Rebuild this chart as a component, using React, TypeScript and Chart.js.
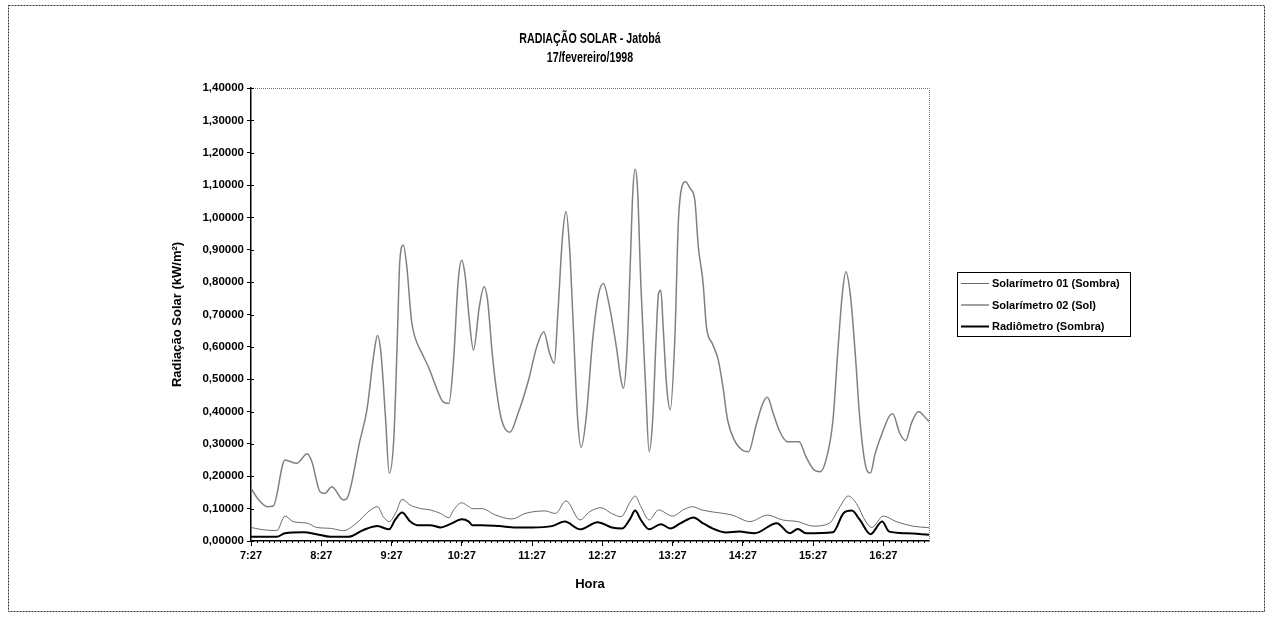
import React, { useEffect, useRef } from "react";
import { Chart, registerables } from "chart.js";

Chart.register(...registerables);

const chartTitle = ["RADIAÇÃO SOLAR - Jatobá", "17/fevereiro/1998"];
const xAxisTitle = "Hora";
const yAxisTitle = "Radiação Solar (kW/m²)";
const seriesNames = ["Solarímetro 01 (Sombra)", "Solarímetro 02 (Sol)", "Radiômetro (Sombra)"];
const xTickLabels = ["7:27", "8:27", "9:27", "10:27", "11:27", "12:27", "13:27", "14:27", "15:27", "16:27"];
const xEndMinute = 579; // minutes after 7:27 where the record ends

// Solarímetro 02 (Sol) — minutes after 7:27 and kW/m²
const solMin = [0, 7, 14, 19, 29, 39, 48, 52, 59, 63, 69, 79, 82, 93, 99, 105, 108, 111, 115, 118, 122, 125, 127, 130, 133, 137, 140, 146, 152, 159, 164, 169, 173, 177, 180, 183, 186, 190, 195, 199, 202, 206, 210, 214, 221, 228, 237, 244, 250, 255, 259, 262, 266, 269, 272, 275, 279, 282, 286, 292, 297, 301, 305, 312, 316, 318, 321, 324, 326, 328, 330, 333, 337, 340, 343, 346, 348, 350, 352, 355, 358, 362, 365, 368, 371, 375, 379, 382, 386, 389, 394, 399, 403, 407, 413, 420, 425, 431, 437, 441, 446, 451, 458, 468, 474, 481, 486, 491, 497, 501, 505, 508, 512, 516, 520, 525, 529, 533, 540, 545, 548, 554, 559, 564, 570, 575, 579];
const solVal = [0.163, 0.125, 0.106, 0.108, 0.25, 0.24, 0.27, 0.245, 0.152, 0.147, 0.168, 0.127, 0.132, 0.31, 0.405, 0.58, 0.635, 0.58, 0.374, 0.21, 0.32, 0.63, 0.86, 0.915, 0.85, 0.683, 0.63, 0.58, 0.534, 0.467, 0.43, 0.425, 0.56, 0.807, 0.868, 0.817, 0.7, 0.59, 0.724, 0.786, 0.745, 0.58, 0.456, 0.374, 0.336, 0.394, 0.497, 0.6, 0.647, 0.58, 0.549, 0.7, 0.94, 1.018, 0.91, 0.683, 0.374, 0.29, 0.374, 0.63, 0.765, 0.796, 0.745, 0.6, 0.497, 0.472, 0.58, 0.868, 1.074, 1.149, 1.095, 0.786, 0.477, 0.276, 0.374, 0.63, 0.765, 0.775, 0.66, 0.477, 0.405, 0.63, 0.99, 1.095, 1.11, 1.09, 1.054, 0.91, 0.8, 0.66, 0.61, 0.56, 0.477, 0.374, 0.31, 0.28, 0.276, 0.353, 0.425, 0.444, 0.394, 0.343, 0.307, 0.307, 0.26, 0.219, 0.214, 0.25, 0.374, 0.58, 0.765, 0.832, 0.755, 0.58, 0.374, 0.23, 0.21, 0.27, 0.343, 0.385, 0.393, 0.333, 0.31, 0.364, 0.4, 0.385, 0.369];

// Solarímetro 01 (Sombra)
const sombraMin = [0, 8, 22, 29, 36, 48, 56, 68, 79, 90, 102, 108, 113, 118, 124, 129, 136, 145, 153, 162, 169, 173, 180, 186, 189, 197, 209, 223, 234, 251, 260, 269, 281, 289, 299, 308, 316, 324, 328, 333, 340, 348, 360, 370, 377, 385, 394, 411, 426, 441, 454, 467, 480, 494, 503, 510, 517, 525, 530, 540, 551, 565, 579];
const sombraVal = [0.042, 0.036, 0.032, 0.077, 0.06, 0.055, 0.042, 0.039, 0.032, 0.055, 0.096, 0.106, 0.075, 0.06, 0.09, 0.129, 0.111, 0.1, 0.096, 0.085, 0.072, 0.096, 0.118, 0.106, 0.1, 0.1, 0.08, 0.068, 0.085, 0.093, 0.085, 0.124, 0.065, 0.09, 0.103, 0.085, 0.075, 0.122, 0.139, 0.106, 0.065, 0.096, 0.077, 0.098, 0.106, 0.096, 0.09, 0.08, 0.06, 0.08, 0.065, 0.06, 0.046, 0.055, 0.106, 0.139, 0.116, 0.06, 0.042, 0.077, 0.06, 0.046, 0.041];

// Radiômetro (Sombra)
const radMin = [0, 22, 29, 45, 56, 68, 83, 96, 108, 118, 123, 129, 136, 142, 153, 162, 170, 180, 186, 189, 197, 212, 226, 240, 257, 268, 281, 296, 308, 317, 324, 328, 333, 340, 350, 358, 367, 378, 385, 394, 406, 417, 430, 449, 460, 467, 474, 497, 506, 513, 520, 529, 539, 545, 560, 579];
const radVal = [0.013, 0.013, 0.024, 0.027, 0.021, 0.013, 0.013, 0.034, 0.046, 0.036, 0.065, 0.088, 0.06, 0.049, 0.049, 0.042, 0.052, 0.067, 0.06, 0.049, 0.049, 0.046, 0.042, 0.042, 0.046, 0.06, 0.036, 0.058, 0.042, 0.039, 0.07, 0.094, 0.065, 0.036, 0.052, 0.039, 0.055, 0.073, 0.057, 0.039, 0.026, 0.029, 0.024, 0.055, 0.024, 0.037, 0.024, 0.027, 0.086, 0.094, 0.065, 0.021, 0.06, 0.029, 0.024, 0.019];

const pts = (xs: number[], ys: number[]) => xs.map((x, i) => ({ x, y: ys[i] }));

const FONT = "'Liberation Sans', Arial, sans-serif";

const decorPlugin = {
  id: "decor",
  beforeDraw(chart: any) {
    const { ctx, width, height } = chart;
    ctx.save();
    ctx.fillStyle = "#fff";
    ctx.fillRect(0, 0, width, height);
    ctx.strokeStyle = "#333";
    ctx.lineWidth = 1;
    ctx.setLineDash([2, 1]);
    ctx.strokeRect(8.5, 5.5, 1256, 606);
    ctx.restore();
  },
  afterDraw(chart: any) {
    const { ctx, chartArea: a } = chart;
    ctx.save();
    // dotted top and right plot-area border
    ctx.strokeStyle = "#777";
    ctx.lineWidth = 1;
    ctx.setLineDash([1, 1]);
    ctx.beginPath();
    ctx.moveTo(a.left, a.top + 0.5);
    ctx.lineTo(a.right + 0.5, a.top + 0.5);
    ctx.lineTo(a.right + 0.5, a.bottom);
    ctx.stroke();
    ctx.setLineDash([]);
    // minor ticks on x axis
    const xs = chart.scales.x;
    ctx.strokeStyle = "#000";
    for (let m = 0; m <= xEndMinute; m += 5) {
      const px = Math.round(xs.getPixelForValue(m)) + 0.5;
      ctx.beginPath();
      ctx.moveTo(px, a.bottom);
      ctx.lineTo(px, a.bottom + 2);
      ctx.stroke();
    }
    // y ticks crossing inside
    const ys = chart.scales.y;
    ys.ticks.forEach((t: any) => {
      const py = Math.round(ys.getPixelForValue(t.value)) + 0.5;
      ctx.beginPath();
      ctx.moveTo(a.left, py);
      ctx.lineTo(a.left + 3, py);
      ctx.stroke();
    });
    // title (condensed, as in the scanned original)
    const cx = (a.left + a.right) / 2;
    ctx.fillStyle = "#000";
    ctx.textAlign = "center";
    ctx.textBaseline = "middle";
    ctx.font = `bold 14px ${FONT}`;
    ctx.save();
    ctx.translate(cx, 0);
    ctx.scale(0.76, 1);
    ctx.fillText(chartTitle[0], 0, 39);
    ctx.fillText(chartTitle[1], 0, 58);
    ctx.restore();
    // legend
    const lx = 957, ly = 272, lw = 173, lh = 64;
    ctx.strokeStyle = "#000";
    ctx.lineWidth = 1;
    ctx.strokeRect(lx + 0.5, ly + 0.5, lw, lh);
    ctx.font = `bold 11px ${FONT}`;
    ctx.textAlign = "left";
    chart.data.datasets.forEach((ds: any, i: number) => {
      const y = ly + 11 + i * 21.5;
      ctx.strokeStyle = ds.borderColor;
      ctx.lineWidth = ds.borderWidth;
      ctx.beginPath();
      ctx.moveTo(lx + 4, y + 0.5);
      ctx.lineTo(lx + 32, y + 0.5);
      ctx.stroke();
      ctx.fillStyle = "#000";
      ctx.fillText(ds.label, lx + 35, y + 1);
    });
    ctx.restore();
  },
};

export default function App() {
  const ref = useRef<HTMLCanvasElement | null>(null);
  useEffect(() => {
    document.body.style.margin = "0";
    const canvas = ref.current;
    if (!canvas) return;
    const chart = new Chart(canvas, {
      type: "line",
      data: {
        datasets: [
          {
            label: seriesNames[0],
            data: pts(sombraMin, sombraVal),
            borderColor: "#6a6a6a",
            borderWidth: 1,
            pointRadius: 0,
            cubicInterpolationMode: "monotone",
          },
          {
            label: seriesNames[1],
            data: pts(solMin, solVal),
            borderColor: "#808080",
            borderWidth: 1.5,
            pointRadius: 0,
            cubicInterpolationMode: "monotone",
          },
          {
            label: seriesNames[2],
            data: pts(radMin, radVal),
            borderColor: "#000000",
            borderWidth: 2,
            pointRadius: 0,
            cubicInterpolationMode: "monotone",
          },
        ],
      },
      options: {
        responsive: false,
        animation: false,
        events: [],
        layout: { padding: { left: 168, right: 344, top: 88, bottom: 21 } },
        plugins: {
          legend: { display: false },
          title: { display: false },
          tooltip: { enabled: false },
        },
        scales: {
          x: {
            type: "linear",
            min: 0,
            max: xEndMinute,
            afterFit(scale: any) {
              scale.height = 55;
            },
            afterBuildTicks(scale: any) {
              scale.ticks = xTickLabels.map((_, i) => ({ value: i * 60 }));
            },
            ticks: {
              autoSkip: false,
              maxRotation: 0,
              padding: 3,
              color: "#000",
              font: { family: FONT, size: 11, weight: "bold" },
              callback: (_v: any, i: number) => xTickLabels[i],
            },
            grid: { drawOnChartArea: false, drawTicks: true, tickLength: 5, color: "#000" },
            border: { color: "#000", width: 1.5 },
            title: {
              display: true,
              text: xAxisTitle,
              color: "#000",
              font: { family: FONT, size: 13, weight: "bold" },
              padding: { top: 4, bottom: 4 },
            },
          },
          y: {
            min: 0,
            max: 1.4,
            afterFit(scale: any) {
              scale.width = 83;
            },
            ticks: {
              stepSize: 0.1,
              padding: 3,
              color: "#000",
              font: { family: FONT, size: 11.5, weight: "bold" },
              callback: (v: any) => Number(v).toFixed(5).replace(".", ","),
            },
            grid: { drawOnChartArea: false, drawTicks: true, tickLength: 4, color: "#000" },
            border: { color: "#000", width: 1.5 },
            title: {
              display: true,
              text: yAxisTitle,
              color: "#000",
              font: { family: FONT, size: 13, weight: "bold" },
              padding: { top: 2, bottom: 2 },
            },
          },
        },
      },
      plugins: [decorPlugin],
    } as any);
    return () => chart.destroy();
  }, []);
  return <canvas ref={ref} width={1273} height={617} style={{ display: "block" }} />;
}
